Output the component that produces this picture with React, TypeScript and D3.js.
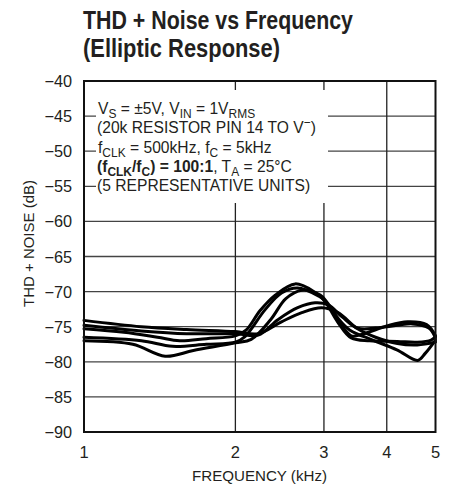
import React from "react";
import * as d3 from "d3";

const xTicks = [1, 2, 3, 4, 5];
const yTicks = [-40, -45, -50, -55, -60, -65, -70, -75, -80, -85, -90];

const freqA = [1, 1.3, 1.6, 2.0, 2.22, 2.47, 2.71, 2.97, 3.2, 3.5, 3.8, 4.2, 4.6, 5];
const valsA = [-74.1, -75.0, -75.4, -75.7, -76.0, -74.3, -73.0, -72.3, -73.0, -75.3, -76.5, -77.4, -77.6, -77.2];

const freqB = [1, 1.3, 1.6, 2.0, 2.22, 2.43, 2.66, 2.88, 3.06, 3.26, 3.5, 3.8, 4.2, 4.5, 4.85, 5];
const valsB = [-74.8, -75.6, -76.0, -76.0, -76.2, -74.0, -72.3, -71.6, -71.9, -73.6, -75.2, -75.2, -74.8, -74.6, -75.2, -76.6];

const freqC = [1, 1.2, 1.4, 1.55, 1.75, 2.0, 2.1, 2.24, 2.4, 2.63, 2.88, 3.0, 3.2, 3.4, 3.6, 4.0, 4.4, 4.8, 5];
const valsC = [-75.3, -75.8, -76.5, -77.0, -76.7, -76.3, -75.5, -72.7, -70.5, -68.9, -70.1, -71.2, -74.0, -76.3, -76.0, -74.9, -74.3, -74.7, -76.3];

const freqD = [1, 1.3, 1.5, 1.75, 2.0, 2.09, 2.29, 2.47, 2.66, 2.92, 3.0, 3.2, 3.4, 3.7, 4.2, 4.6, 4.9, 5];
const valsD = [-76.5, -77.0, -77.8, -77.5, -77.2, -76.4, -72.6, -70.2, -69.5, -70.6, -71.2, -74.4, -76.6, -77.0, -77.1, -77.2, -76.9, -76.4];

const freqE = [1, 1.25, 1.45, 1.65, 2.0, 2.15, 2.35, 2.52, 2.71, 2.95, 3.05, 3.2, 3.38, 3.75, 4.19, 4.61, 4.77, 5];
const valsE = [-77.0, -77.5, -79.2, -78.4, -77.3, -76.8, -74.0, -71.0, -69.8, -70.5, -71.6, -73.8, -75.5, -76.9, -78.3, -79.8, -78.8, -76.9];

const seriesFreqs = [freqA, freqB, freqC, freqD, freqE];
const seriesVals = [valsA, valsB, valsC, valsD, valsE];

const FONT = "'Liberation Sans', Arial, Helvetica, sans-serif";
const INK = "#231f20";

export default function App() {
  const W = 458, H = 495;
  const left = 84, right = 435.5, top = 81, bottom = 432;
  const x = d3.scaleLog().domain([1, 5]).range([left, right]);
  const y = d3.scaleLinear().domain([-90, -40]).range([bottom, top]);
  const line = d3
    .line<[number, number]>()
    .x((d) => x(d[0]))
    .y((d) => y(d[1]))
    .curve(d3.curveCatmullRom.alpha(0.5));

  const SUB = 13;
  const DY = 4;
  const SX = 0.92;

  return (
    <svg width={W} height={H} style={{ position: "absolute", left: 0, top: 0, background: "#fff" }} fontFamily={FONT}>
      <rect x={0} y={0} width={W} height={H} fill="#fff" />
      {/* Title */}
      <text x={83} y={29} fontSize={25} fontWeight="bold" fill={INK} textLength={270} lengthAdjust="spacingAndGlyphs">
        THD + Noise vs Frequency
      </text>
      <text x={83} y={57} fontSize={25} fontWeight="bold" fill={INK} textLength={197} lengthAdjust="spacingAndGlyphs">
        (Elliptic Response)
      </text>

      {/* grid */}
      {yTicks.filter((t) => t !== -40 && t !== -90).map((t) => (
        <line key={"h" + t} x1={left} x2={right} y1={y(t)} y2={y(t)} stroke="#444" strokeWidth={1.3} />
      ))}
      {xTicks.filter((t) => t !== 1 && t !== 5).map((t) => (
        <line key={"v" + t} x1={x(t)} x2={x(t)} y1={top} y2={bottom} stroke="#222" strokeWidth={1.3} />
      ))}

      {/* annotation background */}
      <rect x={96} y={90} width={232} height={113} fill="#fff" />

      {/* curves */}
      {seriesFreqs.map((fs, i) => (
        <path
          key={"s" + i}
          d={line(fs.map((f, j) => [f, seriesVals[i][j]] as [number, number])) || ""}
          fill="none"
          stroke="#000"
          strokeWidth={3}
          strokeLinejoin="round"
          strokeLinecap="round"
        />
      ))}

      {/* frame */}
      <rect x={left} y={top} width={right - left} height={bottom - top} fill="none" stroke="#111" strokeWidth={2} />

      {/* annotation text */}
      <g fontSize={17} fill={INK}>
        <text transform={`translate(98,114) scale(${SX},1)`}>
          <tspan>V</tspan>
          <tspan dy={DY} fontSize={SUB}>S</tspan>
          <tspan dy={-DY}> = ±5V, V</tspan>
          <tspan dy={DY} fontSize={SUB}>IN</tspan>
          <tspan dy={-DY}> = 1V</tspan>
          <tspan dy={DY} fontSize={SUB}>RMS</tspan>
        </text>
        <text transform={`translate(97,133) scale(${SX},1)`}>
          <tspan>(20k RESISTOR PIN 14 TO V</tspan>
          <tspan dy={-6} fontSize={SUB}>−</tspan>
          <tspan dy={6}>)</tspan>
        </text>
        <text transform={`translate(98,152.5) scale(${SX},1)`}>
          <tspan>f</tspan>
          <tspan dy={DY} fontSize={SUB}>CLK</tspan>
          <tspan dy={-DY}> = 500kHz, f</tspan>
          <tspan dy={DY} fontSize={SUB}>C</tspan>
          <tspan dy={-DY}> = 5kHz</tspan>
        </text>
        <text transform={`translate(97,172) scale(${SX},1)`}>
          <tspan fontWeight="bold">(f</tspan>
          <tspan fontWeight="bold" dy={DY} fontSize={SUB}>CLK</tspan>
          <tspan fontWeight="bold" dy={-DY}>/f</tspan>
          <tspan fontWeight="bold" dy={DY} fontSize={SUB}>C</tspan>
          <tspan fontWeight="bold" dy={-DY}>) = 100:1</tspan>
          <tspan>, T</tspan>
          <tspan dy={DY} fontSize={SUB}>A</tspan>
          <tspan dy={-DY}> = 25°C</tspan>
        </text>
        <text transform={`translate(97,191) scale(${SX},1)`}>(5 REPRESENTATIVE UNITS)</text>
      </g>

      {/* y tick labels */}
      {yTicks.map((t) => (
        <text key={"yl" + t} x={72} y={y(t) + 6} fontSize={16.3} textAnchor="end" fill={INK}>
          {"−" + Math.abs(t)}
        </text>
      ))}
      {/* x tick labels */}
      {xTicks.map((t) => (
        <text key={"xl" + t} x={x(t)} y={458} fontSize={16.5} textAnchor="middle" fill={INK}>
          {t}
        </text>
      ))}
      <text x={192} y={481} fontSize={15.4} fill={INK} textLength={135} lengthAdjust="spacingAndGlyphs">
        FREQUENCY (kHz)
      </text>
      <text transform="translate(34,307) rotate(-90)" fontSize={15.4} fill={INK} textLength={127} lengthAdjust="spacingAndGlyphs">
        THD + NOISE (dB)
      </text>
    </svg>
  );
}
